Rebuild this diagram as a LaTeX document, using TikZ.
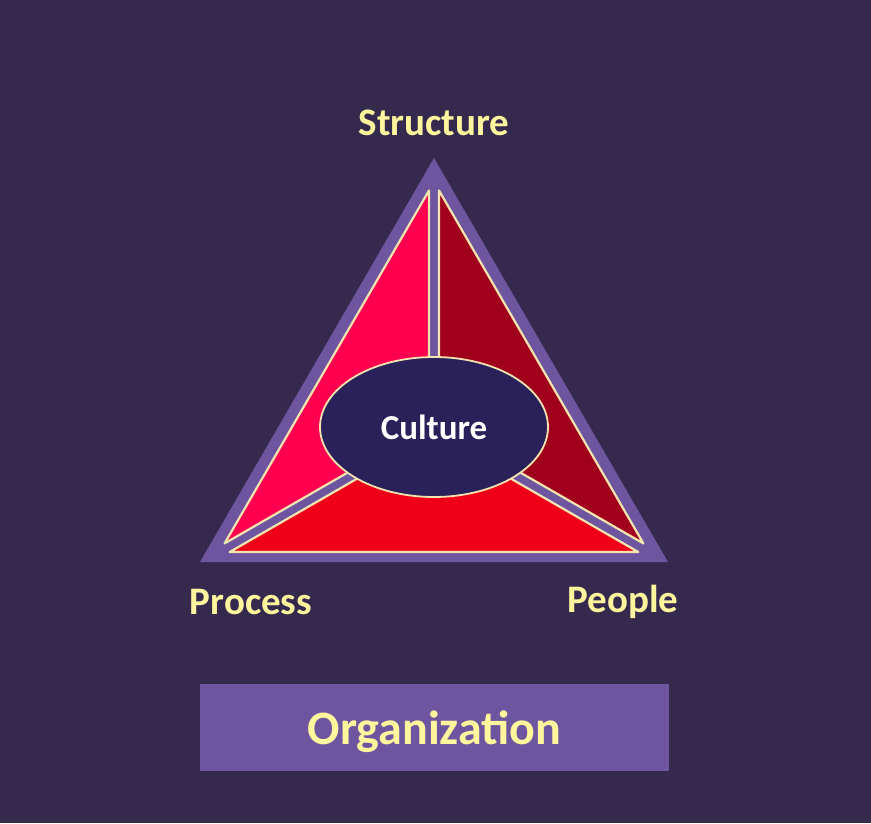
\documentclass[tikz,border=0pt]{standalone}
\usepackage{fontspec}
\setmainfont{Carlito}
\usetikzlibrary{shapes.geometric}

\definecolor{bgpurple}{HTML}{352A4E}
\definecolor{framepurple}{HTML}{6E55A0}
\definecolor{pinkred}{HTML}{FF0050}
\definecolor{darkred}{HTML}{A0001C}
\definecolor{brightred}{HTML}{F00018}
\definecolor{culturefill}{HTML}{2A205A}
\definecolor{cream}{HTML}{F5E3B0}
\definecolor{labelyellow}{HTML}{FFF59D}

\begin{document}
\begin{tikzpicture}
            [x=1pt, y=-1pt,
            label/.style={text=labelyellow, font=\fontsize{39}{42}\selectfont\bfseries},
            piece/.style={draw=cream, line width=2.2pt, line join=round},
            culture/.style={ellipse, draw=cream, line width=1.8pt, fill=culturefill,
                minimum width=228pt, minimum height=140pt, inner sep=0pt,
                text=white, font=\fontsize{35}{38}\selectfont\bfseries},
            orgbox/.style={rectangle, fill=framepurple, minimum width=469pt, minimum height=87pt,
                inner sep=0pt, text depth=0pt, text=labelyellow, font=\fontsize{48}{52}\selectfont\bfseries}]

            % background
            \fill[bgpurple] (0,0) rectangle (871,823);
            \useasboundingbox (0,0) rectangle (871,823);

            % outer frame
            \fill[framepurple] (434,158) -- (668,562) -- (200,562) -- cycle;

            % the three parts
            \filldraw[piece, fill=pinkred] (429,190.5) -- (429,425.7) -- (224.6,543.4) -- cycle;
            \filldraw[piece, fill=darkred] (439,190.5) -- (439,425.7) -- (643.4,543.4) -- cycle;
            \filldraw[piece, fill=brightred] (229.7,552) -- (434,434.4) -- (638.3,552) -- cycle;

            \node[culture] (culture) at (434,427) {Culture};

            \node[label] (structure) at (434,123) {Structure};
            \node[label] (process) at (251,602) {Process};
            \node[label] (people) at (623,602) {People};

            \node[orgbox] (org) at (434.5,727.5) {Organization};

        \end{tikzpicture}
\end{document}
